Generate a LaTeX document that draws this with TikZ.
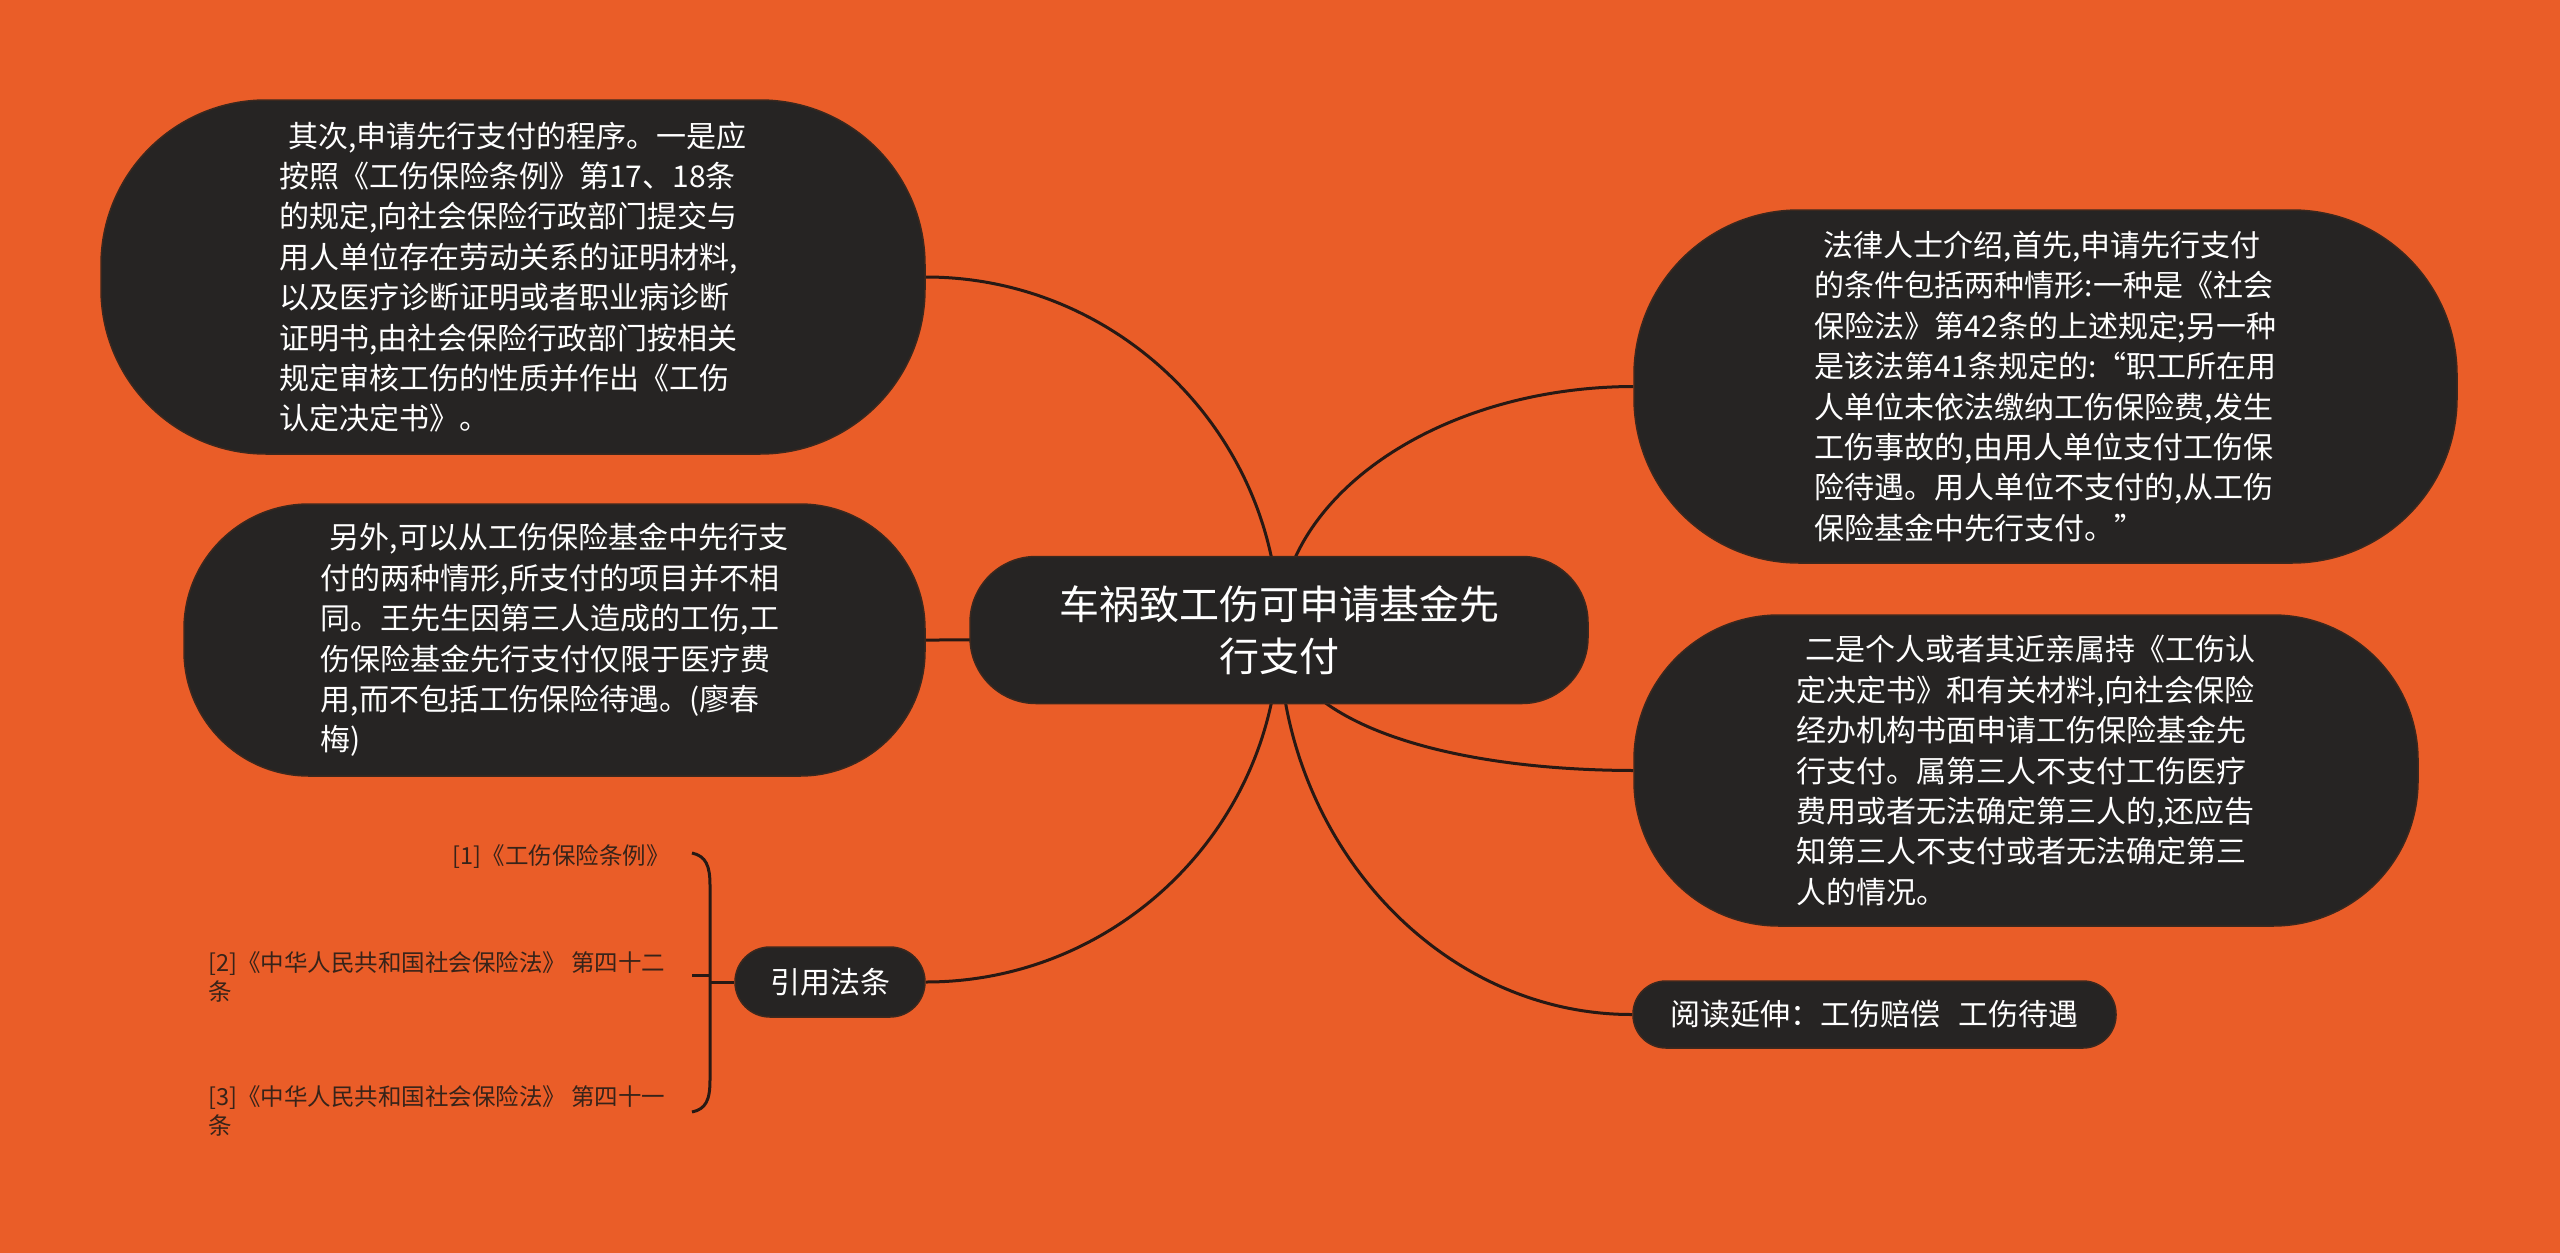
\documentclass[tikz,border=0pt]{standalone}
\usepackage{fontspec}
\setmainfont{Noto Sans CJK SC}
\definecolor{bgc}{RGB}{234,93,40}
\definecolor{nodefill}{RGB}{38,36,35}
\definecolor{nodeborder}{RGB}{60,40,30}
\definecolor{linecol}{RGB}{40,25,20}
\definecolor{reftext}{RGB}{55,35,25}
\pgfdeclarelayer{bglayer}
\pgfdeclarelayer{linelayer}
\pgfsetlayers{bglayer,linelayer,main}
\tikzset{
  box/.style={fill=nodefill, draw=nodeborder, line width=1.5pt, text=white,
    font=\fontsize{30pt}{40.4pt}\selectfont, align=left, inner sep=0pt},
  conn/.style={draw=linecol, line width=3pt},
  reftxt/.style={text=reftext, font=\fontsize{23.5pt}{29pt}\selectfont, align=left, inner sep=0pt}
}
\begin{document}
\begin{tikzpicture}[x=1pt,y=-1pt]
\begin{pgfonlayer}{bglayer}
\fill[bgc] (0,0) rectangle (2560,1253);
\end{pgfonlayer}
\useasboundingbox (0,0) rectangle (2560,1253);

% root
\node[box, align=center, font=\fontsize{40pt}{52pt}\selectfont,
  minimum width=618pt, minimum height=147pt, rounded corners=66pt] (root) at (1279,630)
  {车祸致工伤可申请基金先\\行支付};
\coordinate (rc) at (1279,630);

% top-left
\node[box, minimum width=824pt, minimum height=354pt, rounded corners=165pt] (tl) at (513,277)
  {\hspace*{0.3em}其次,申请先行支付的程序。一是应\\
   按照《工伤保险条例》第17、18条\\
   的规定,向社会保险行政部门提交与\\
   用人单位存在劳动关系的证明材料,\\
   以及医疗诊断证明或者职业病诊断\\
   证明书,由社会保险行政部门按相关\\
   规定审核工伤的性质并作出《工伤\\
   认定决定书》。};

% middle-left
\node[box, minimum width=741pt, minimum height=272pt, rounded corners=125pt] (ml) at (554.5,640)
  {\hspace*{0.3em}另外,可以从工伤保险基金中先行支\\
   付的两种情形,所支付的项目并不相\\
   同。王先生因第三人造成的工伤,工\\
   伤保险基金先行支付仅限于医疗费\\
   用,而不包括工伤保险待遇。(廖春\\
   梅)};

% right-top
\node[box, minimum width=823pt, minimum height=353pt, rounded corners=165pt] (rt) at (2045.5,386.5)
  {\hspace*{0.3em}法律人士介绍,首先,申请先行支付\\
   的条件包括两种情形:一种是《社会\\
   保险法》第42条的上述规定;另一种\\
   是该法第41条规定的:“职工所在用\\
   人单位未依法缴纳工伤保险费,发生\\
   工伤事故的,由用人单位支付工伤保\\
   险待遇。用人单位不支付的,从工伤\\
   保险基金中先行支付。”};

% right-middle
\node[box, minimum width=784pt, minimum height=311pt, rounded corners=145pt] (rm) at (2026,770.5)
  {\hspace*{0.3em}二是个人或者其近亲属持《工伤认\\
   定决定书》和有关材料,向社会保险\\
   经办机构书面申请工伤保险基金先\\
   行支付。属第三人不支付工伤医疗\\
   费用或者无法确定第三人的,还应告\\
   知第三人不支付或者无法确定第三\\
   人的情况。};

% reading extension
\node[box, align=center, minimum width=483pt, minimum height=67pt, rounded corners=33pt] (yd) at (1874.5,1014.5)
  {阅读延伸：工伤赔偿\hspace{0.6em}工伤待遇};

% citations
\node[box, align=center, minimum width=190pt, minimum height=70pt, rounded corners=35pt] (yy) at (830,982)
  {引用法条};

\node[reftxt, anchor=east] (r1) at (670,857) {[1]《工伤保险条例》};
\node[reftxt, anchor=west] (r2) at (208,977) {[2]《中华人民共和国社会保险法》 第四十二\\条};
\node[reftxt, anchor=west] (r3) at (208,1111) {[3]《中华人民共和国社会保险法》 第四十一\\条};

\coordinate (bt) at (692,853);
\coordinate (bb) at (692,1112);
\coordinate (bm) at (710,982);
\coordinate (tk1) at (692,975);
\coordinate (tk2) at (710,975);

\begin{pgfonlayer}{linelayer}
\draw[conn] (rc) .. controls (1279,436) and (1120,277) .. (tl.east);
\draw[conn] (rc) .. controls (1279,635) and (1120,640) .. (ml.east);
\draw[conn] (rc) .. controls (1279,824) and (1120,982) .. (yy.east);
\draw[conn] (rc) .. controls (1279,496) and (1439,387) .. (rt.west);
\draw[conn] (rc) .. controls (1285,720) and (1439,770) .. (rm.west);
\draw[conn] (rc) .. controls (1279,839) and (1438,1015) .. (yd.west);
\draw[conn] (bt) .. controls (706,856) and (710,866) .. (710,885) -- (710,1080)
  .. controls (710,1100) and (706,1109) .. (bb);
\draw[conn] (tk1) -- (tk2);
\draw[conn] (yy.west) -- (bm);
\end{pgfonlayer}
\end{tikzpicture}
\end{document}
